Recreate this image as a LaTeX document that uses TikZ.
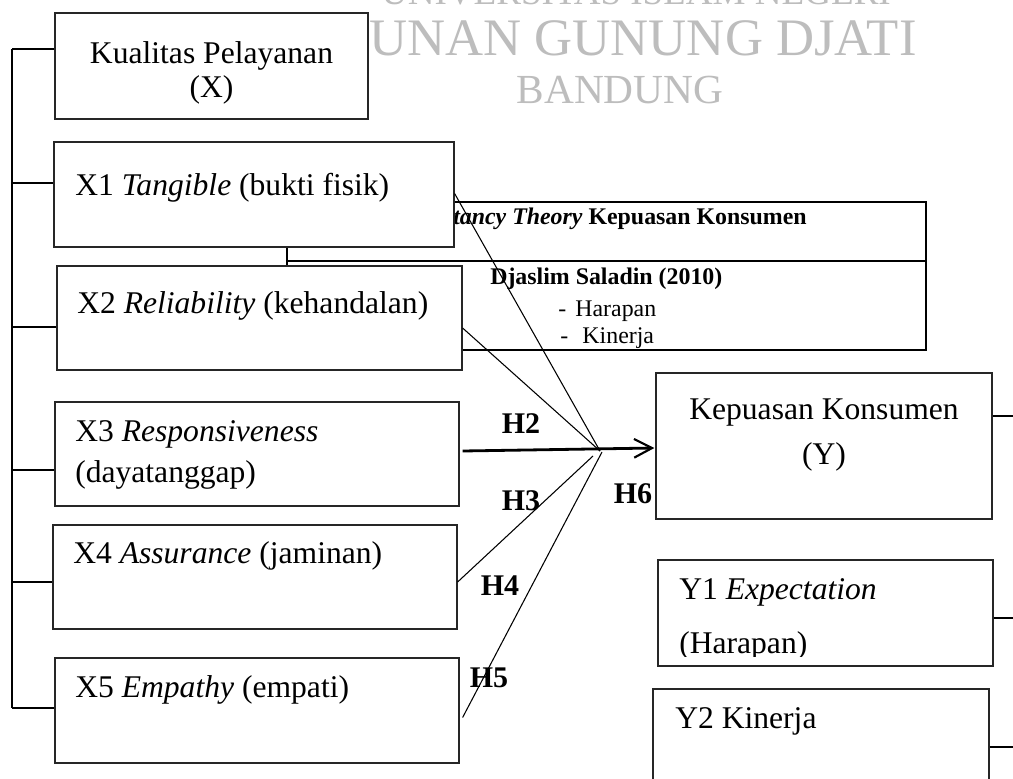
\documentclass[tikz,border=0pt]{standalone}
\usepackage{fontspec}
\setmainfont{Liberation Serif}
\usetikzlibrary{arrows.meta,fit,calc}
\begin{document}
\begin{tikzpicture}[x=0.75pt,y=-0.75pt,
  box/.style={draw=black!85,line width=0.9pt,fill=white,inner sep=0pt},
  lbl/.style={font=\fontsize{23.7}{28}\selectfont,inner sep=0pt},
  hyp/.style={font=\fontsize{22.5}{26}\selectfont\bfseries,inner sep=0pt,anchor=base},
  thr/.style={font=\fontsize{17.9}{21}\selectfont,inner sep=0pt},
  thrb/.style={font=\fontsize{17.9}{21}\selectfont\bfseries,inner sep=0pt},
  wm/.style={text=black!26,inner sep=0pt,anchor=base},
  conn/.style={line width=0.8pt},
  tick/.style={line width=0.8pt}]
\clip (0,0) rectangle (1013,778);
\fill[white] (0,0) rectangle (1013,778);
% watermark
\node[wm,font=\fontsize{27.8}{30}\selectfont] (wm1) at (636,4) {UNIVERSITAS ISLAM NEGERI};
\node[wm,font=\fontsize{39.5}{42}\selectfont,anchor=base east] (wm2) at (917,55) {SUNAN GUNUNG DJATI};
\node[wm,font=\fontsize{31}{34}\selectfont] (wm3) at (620,103) {BANDUNG};
% theory box
\node[draw,line width=1.8pt,inner sep=0pt,fit={(287,202) (926,350)}] (tb) {};
\draw[line width=1.8pt] ($(tb.north west)+(0,60)$) -- ($(tb.north east)+(0,60)$);
\node[thrb,anchor=base east] (tt) at (807,224) {\textit{Expectancy Theory} Kepuasan Konsumen};
\node[thrb,anchor=base west] (td) at (490,284) {Djaslim Saladin (2010)};
\node[thr,anchor=base west] (th) at (558,316) {-\hspace{6.9pt}Harapan};
\node[thr,anchor=base west] (tk) at (560,343) {-\hspace{10.7pt}Kinerja};
% boxes
\node[box,fit={(55,13) (368,119)}] (kx) {};
\node[box,fit={(54,142) (454,247)}] (x1) {};
\node[box,fit={(57,266) (462,370)}] (x2) {};
\node[box,fit={(55,402) (459,506)}] (x3) {};
\node[box,fit={(53,525) (457,629)}] (x4) {};
\node[box,fit={(55,658) (459,763)}] (x5) {};
\node[box,fit={(656,373) (992,519)}] (ky) {};
\node[box,fit={(658,560) (993,666)}] (y1) {};
\node[box,fit={(653,689) (989,800)}] (y2) {};
% connectors
\coordinate (c) at (600,451);
\draw[conn] ($(x1.east)+(0,-1)$) -- (c);
\draw[conn] ($(x2.east)+(0,10)$) -- (c);
\draw[conn] ($(x4.east)+(0,5)$) -- ($(c)+(-7,5)$);
\draw[conn] ($(x5.east)+(3,7)$) -- ($(c)+(2,1)$);
\draw[line width=2.1pt,-{Straight Barb[length=13.5pt,width=14pt,line width=1.6pt]}] ($(x3.east)+(3,-3)$) -- ($(ky.west)+(-1,2)$);
% box texts
\node[lbl,anchor=base] (kxa) at (211.5,63) {Kualitas Pelayanan};
\node[lbl,anchor=base] (kxb) at (211.5,97) {(X)};
\node[lbl,anchor=base west] (x1t) at (75,195) {X1 \textit{Tangible} (bukti fisik)};
\node[lbl,anchor=base west] (x2t) at (77,313) {X2 \textit{Reliability} (kehandalan)};
\node[lbl,anchor=base west] (x3a) at (75,441) {X3 \textit{Responsiveness}};
\node[lbl,anchor=base west] (x3b) at (75,482) {(dayatanggap)};
\node[lbl,anchor=base west] (x4t) at (73,563) {X4 \textit{Assurance} (jaminan)};
\node[lbl,anchor=base west] (x5t) at (75,697) {X5 \textit{Empathy} (empati)};
\node[lbl,anchor=base] (kya) at (824,419) {Kepuasan Konsumen};
\node[lbl,anchor=base] (kyb) at (824,464) {(Y)};
\node[lbl,anchor=base west] (y1a) at (679,599) {Y1 \textit{Expectation}};
\begin{scope}
\clip (660,600) rectangle (990,656);
\node[lbl,anchor=base west] (y1b) at (679,653) {(Harapan)};
\end{scope}
\node[lbl,anchor=base west] (y2t) at (675,728) {Y2 Kinerja};
% hypotheses
\node[hyp] (h2) at (521,433) {H2};
\node[hyp] (h3) at (521,510) {H3};
\node[hyp] (h4) at (500,595) {H4};
\node[hyp] (h5) at (489,687) {H5};
\node[hyp] (h6) at (633,503) {H6};
% left bracket
\coordinate (b0) at (12,49);
\coordinate (b1) at (12,183);
\coordinate (b2) at (12,327);
\coordinate (b3) at (12,470);
\coordinate (b4) at (12,582);
\coordinate (b5) at (12,708);
\draw[tick] (b0) -- (b5);
\draw[tick] (b0) -- (b0 -| kx.west);
\draw[tick] (b1) -- (b1 -| x1.west);
\draw[tick] (b2) -- (b2 -| x2.west);
\draw[tick] (b3) -- (b3 -| x3.west);
\draw[tick] (b4) -- (b4 -| x4.west);
\draw[tick] (b5) -- (b5 -| x5.west);
% right ticks
\coordinate (r0) at (1013,416);
\coordinate (r1) at (1013,618);
\coordinate (r2) at (1013,747);
\draw[tick] (r0 -| ky.east) -- (r0);
\draw[tick] (r1 -| y1.east) -- (r1);
\draw[tick] (r2 -| y2.east) -- (r2);
\end{tikzpicture}
\end{document}
